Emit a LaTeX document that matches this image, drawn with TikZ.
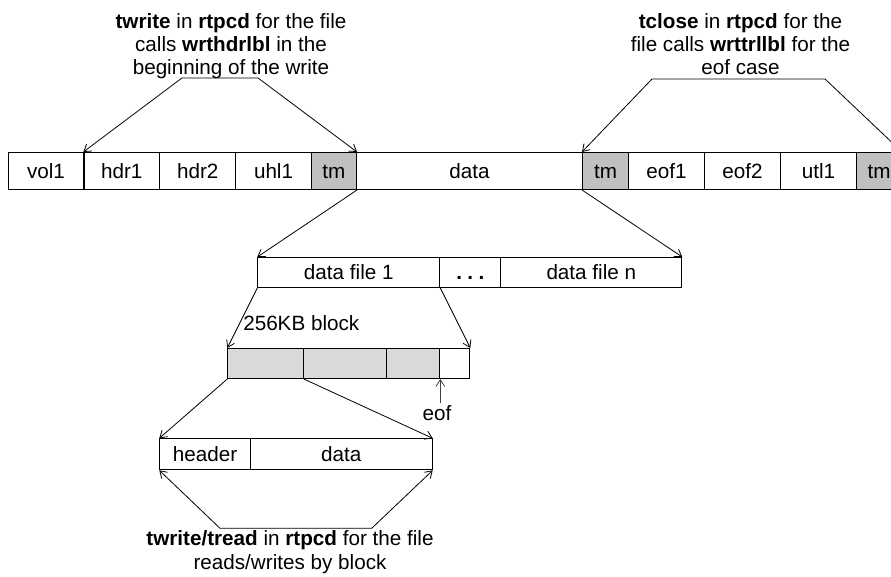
\documentclass[tikz,border=0pt]{standalone}
\usepackage{fontspec}
\setmainfont{Liberation Sans}
\usetikzlibrary{arrows.meta}
\definecolor{tmgray}{RGB}{192,192,192}
\definecolor{blkgray}{RGB}{217,217,217}
\begin{document}
\begin{tikzpicture}[x=0.75pt,y=-0.75pt,
  cell/.style={draw=black, line width=0.75pt, anchor=north west, inner sep=0pt,
    text height=11.2pt, text depth=0pt, font=\fontsize{15.5pt}{17.25pt}\selectfont},
  cw/.style={minimum width=#1*0.75pt},
  ch/.style={minimum height=#1*0.75pt},
  lbl/.style={inner sep=0pt, align=center, font=\fontsize{15.5pt}{17.25pt}\selectfont},
  arr/.style={line width=0.6pt, -{Straight Barb[length=5pt,width=6.5pt]}},
  brk/.style={line width=0.6pt, {Straight Barb[length=5pt,width=6.5pt]}-{Straight Barb[length=5pt,width=6.5pt]}}
]
\useasboundingbox (0,0) rectangle (891,577);
\clip (0,0) rectangle (891,577);

% top row
\node[cell, cw=76, ch=37] (vol1) at (7.5,152) {vol1};
\node[cell, cw=76, ch=37] (hdr1) at (83.3,152) {hdr1};
\node[cell, cw=76, ch=37] (hdr2) at (159.3,152) {hdr2};
\node[cell, cw=75.5, ch=37] (uhl1) at (235.3,152) {uhl1};
\node[cell, cw=45.2, ch=37, fill=tmgray] (tma) at (310.8,152) {tm};
\node[cell, cw=226, ch=37] (data) at (356,152) {data};
\node[cell, cw=46, ch=37, fill=tmgray] (tmb) at (582,152) {tm};
\node[cell, cw=76, ch=37] (eof1) at (628,152) {eof1};
\node[cell, cw=76, ch=37] (eof2) at (704,152) {eof2};
\node[cell, cw=76, ch=37] (utl1) at (780,152) {utl1};
\node[cell, cw=45, ch=37, fill=tmgray] (tmc) at (856,152) {tm};

% top labels
\node[lbl, anchor=base] (twr) at (231,75) {\textbf{twrite} in \textbf{rtpcd} for the file\\calls \textbf{wrthdrlbl} in the\\beginning of the write};
\node[lbl, anchor=base] (tcl) at (740.5,75) {\textbf{tclose} in \textbf{rtpcd} for the\\file calls \textbf{wrttrllbl} for the\\eof case};

\coordinate (ba) at (182,78);
\coordinate (bb) at (258,78);
\coordinate (bc) at (652,79);
\coordinate (bd) at (825,79);
\draw[brk] (hdr1.north west) -- (ba) -- (bb) -- (tma.north east);
\draw[brk] (tmb.north west) -- (bc) -- (bd) -- (tmc.north east);

% data file row
\node[cell, cw=182, ch=30] (df1) at (257.3,257) {data file 1};
\node[cell, cw=61, ch=30] (dots) at (439.3,257) {\textbf{.\hspace{4pt}.\hspace{4pt}.}};
\node[cell, cw=181, ch=30] (dfn) at (500.3,257) {data file n};
\draw[arr] (tma.south east) -- (df1.north west);
\draw[arr] (tmb.south west) -- (dfn.north east);

% block row
\node[cell, cw=75.5, ch=30, fill=blkgray] (b1) at (227.3,348) {};
\node[cell, cw=83.3, ch=30, fill=blkgray] (b2) at (302.8,348) {};
\node[cell, cw=53.2, ch=30, fill=blkgray] (b3) at (386.1,348) {};
\node[cell, cw=30, ch=30] (b4) at (439.3,348) {};
\node[lbl, anchor=base west] (kb) at (243,330.7) {256KB block};
\draw[arr] (df1.south west) -- (b1.north west);
\draw[arr] (df1.south east) -- (b4.north east);

\node[lbl, anchor=base, inner sep=1pt] (eof) at (437,420) {eof};
\draw[arr, draw=black!75] (eof.north -| b3.south east) -- (b3.south east);

% header row
\node[cell, cw=90.7, ch=31] (hd) at (159.3,438.3) {header};
\node[cell, cw=181.7, ch=31] (dt) at (250,438.3) {data};
\draw[arr] (b1.south west) -- (hd.north west);
\draw[arr] (b1.south east) -- (dt.north east);

\coordinate (be) at (220,528.3);
\coordinate (bf) at (371.7,528.3);
\draw[brk] (hd.south west) -- (be) -- (bf) -- (dt.south east);

\node[lbl, anchor=base, font=\fontsize{15.5pt}{18pt}\selectfont] (tw) at (290,569) {\textbf{twrite/tread} in \textbf{rtpcd} for the file\\reads/writes by block};
\end{tikzpicture}
\end{document}
